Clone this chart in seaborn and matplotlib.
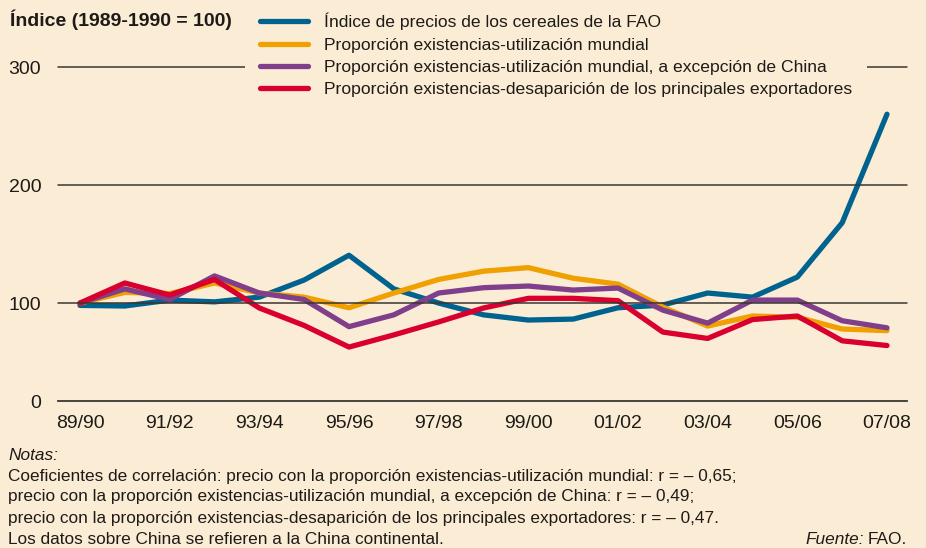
import matplotlib
matplotlib.use("Agg")
import matplotlib.pyplot as plt
import seaborn as sns
import pandas as pd
import numpy as np
from matplotlib.lines import Line2D

seasons = ["89/90", "90/91", "91/92", "92/93", "93/94", "94/95", "95/96", "96/97",
           "97/98", "98/99", "99/00", "00/01", "01/02", "02/03", "03/04", "04/05",
           "05/06", "06/07", "07/08"]

fao_price = [98, 97.5, 102.5, 101, 105, 119.5, 140.5, 112, 100, 90, 85.6, 86.4,
             96, 98.3, 108.5, 105, 122, 168, 260]
stu_world = [100, 109, 108, 117, 108.5, 105, 96, 108.5, 120, 127, 130, 121,
             116, 96.6, 80.5, 89, 88, 78, 76.6]
stu_ex_china = [100, 112, 103, 123, 108.5, 103, 80, 90, 108.5, 113, 114.4, 111,
                112.7, 94, 83, 102.5, 102.5, 85, 79]
stu_exporters = [100, 117, 106.8, 120, 95.8, 81, 62.7, 73, 84, 95.8, 104, 104,
                 102, 75.4, 70, 86, 89, 68, 64]

series_names = [
    "Índice de precios de los cereales de la FAO",
    "Proporción existencias-utilización mundial",
    "Proporción existencias-utilización mundial, a excepción de China",
    "Proporción existencias-desaparición de los principales exportadores",
]
series_colors = ["#00628f", "#f0a000", "#7f3f8a", "#d9002f"]

ytick_values = [17, 100, 200, 300]   # axis floor is drawn compressed in the original
ytick_labels = ["0", "100", "200", "300"]
grid_values = [100, 200, 300]

notes = [
    "Coeficientes de correlación: precio con la proporción existencias-utilización mundial: r = – 0,65;",
    "precio con la proporción existencias-utilización mundial, a excepción de China: r = – 0,49;",
    "precio con la proporción existencias-desaparición de los principales exportadores: r = – 0,47.",
    "Los datos sobre China se refieren a la China continental.",
]

BG = "#fbedd5"
INK = "#1e1a17"
GRID = "#3b3632"
NOTE_FS = 12.4

sns.set_theme(style="white")
plt.rcParams["font.family"] = ["Liberation Sans", "DejaVu Sans"]

rows = []
for name, vals in zip(series_names, [fao_price, stu_world, stu_ex_china, stu_exporters]):
    for i, v in enumerate(vals):
        rows.append({"x": i, "value": v, "serie": name})
df = pd.DataFrame(rows)

fig = plt.figure(figsize=(9.26, 5.48), dpi=100, facecolor=BG)
ax = fig.add_axes([58 / 926, 1 - 401 / 548, (907 - 58) / 926, (401 - 67) / 548])
ax.set_facecolor(BG)

sns.lineplot(data=df, x="x", y="value", hue="serie", hue_order=series_names,
             palette=dict(zip(series_names, series_colors)), ax=ax,
             linewidth=3.8, legend=False, zorder=2)
for ln in ax.get_lines():
    ln.set_solid_capstyle("round")
    ln.set_solid_joinstyle("round")

for g in grid_values:
    ax.axhline(g, color=GRID, lw=1.1, zorder=3, clip_on=False)

ax.set_xlim(-22 / 44.83, 18 + 20 / 44.83)
ax.set_ylim(ytick_values[0], 300)

for s in ["top", "left", "right"]:
    ax.spines[s].set_visible(False)
ax.spines["bottom"].set_color(GRID)
ax.spines["bottom"].set_linewidth(1.3)
ax.spines["bottom"].set_zorder(3)

ax.set_xticks(range(0, len(seasons), 2))
ax.set_xticklabels(seasons[::2])
ax.set_yticks(ytick_values)
ax.set_yticklabels(ytick_labels)
ax.tick_params(axis="x", direction="in", length=7, width=1, color=GRID,
               labelsize=14, labelcolor=INK, pad=10)
ax.tick_params(axis="y", length=0, labelsize=14, labelcolor=INK, pad=12)
ax.set_xlabel("")
ax.set_ylabel("")

fig.text(10 / 926, 1 - 20 / 548, "Índice (1989-1990 = 100)", fontsize=14,
         fontweight="bold", color=INK, va="center", ha="left")

handles = [Line2D([0], [0], color=c, lw=3.8, solid_capstyle="round") for c in series_colors]
leg = fig.legend(handles, series_names, loc="upper left",
                 bbox_to_anchor=(245 / 926, 1 + 2 / 548), frameon=True,
                 facecolor=BG, edgecolor="none", framealpha=1, fontsize=12.6,
                 handlelength=2.75, handletextpad=0.9, labelspacing=0.40,
                 borderpad=0.85, borderaxespad=0)
for t in leg.get_texts():
    t.set_color(INK)

fig.text(8 / 926, 1 - 455 / 548, "Notas:", fontsize=NOTE_FS, style="italic",
         color=INK, va="center", ha="left")
for k, line in enumerate(notes):
    fig.text(8 / 926, 1 - (476 + 21 * k) / 548, line, fontsize=NOTE_FS, color=INK,
             va="center", ha="left")

fig.canvas.draw()
t_fao = fig.text(907 / 926, 1 - 539 / 548, "FAO.", fontsize=NOTE_FS, color=INK,
                 va="center", ha="right")
fig.canvas.draw()
bb = t_fao.get_window_extent()
fig.text((bb.x0 - 4) / 926, 1 - 539 / 548, "Fuente:", fontsize=NOTE_FS, style="italic",
         color=INK, va="center", ha="right")

fig.savefig("out.png", dpi=100, facecolor=BG)
